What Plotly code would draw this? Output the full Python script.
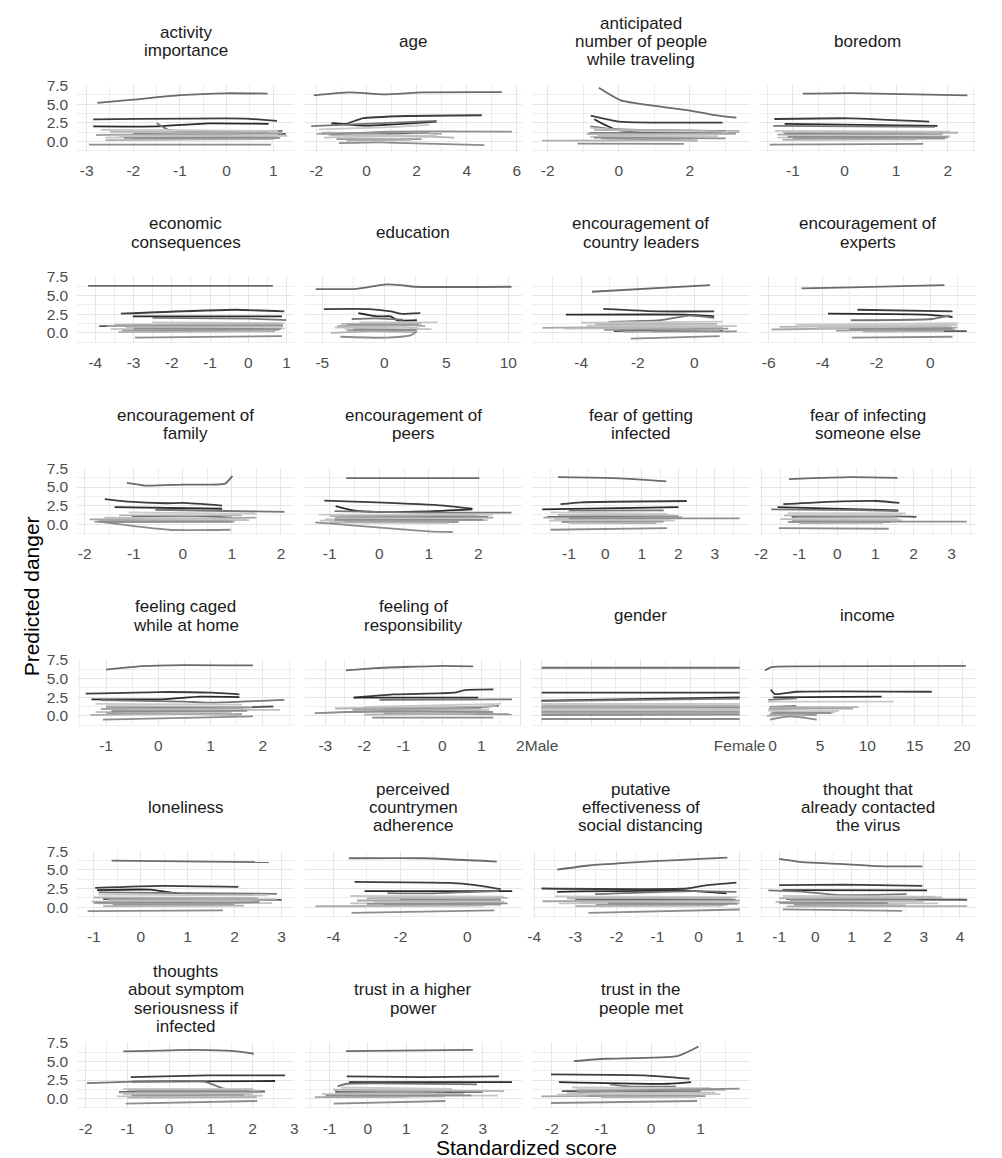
import plotly.graph_objects as go

# ---------------- data ----------------
series_colors = ["#6b6b6b", "#3d3d3d", "#2a2a2a", "#767676", "#555555", "#c9c9c9", "#b3b3b3",
                 "#a6a6a6", "#bebebe", "#c4c4c4", "#999999", "#b0b0b0", "#8e8e8e", "#8c8c8c"]

activity_importance = [
    [[-2.77, 5.15], [-2, 5.6], [-1, 6.2], [0, 6.45], [0.88, 6.4]],
    [[-2.86, 2.95], [0.4, 3.05], [1.08, 2.75]],
    [[-2.86, 2.0], [-1.5, 2.0], [-0.4, 2.4], [0.9, 2.35]],
    [[-1.5, 2.45], [-1.25, 1.55], [1.2, 1.4]],
    [[-2.0, 1.0], [1.27, 1.0]],
    [[-2.7, 1.55], [-1.0, 1.5], [1.1, 1.35]],
    [[-2.5, 1.3], [1.2, 1.15]],
    [[-2.8, 0.85], [-1, 1.0], [0.9, 1.2]],
    [[-2.3, 0.7], [1.1, 0.9]],
    [[-2.6, 0.5], [1.3, 0.75]],
    [[-2.0, 0.3], [1.15, 0.45]],
    [[-2.6, 0.15], [1.0, 0.3]],
    [[-2.2, 0.45], [1.1, 0.5]],
    [[-2.95, -0.44], [0.95, -0.44]],
]
age = [
    [[-2.1, 6.18], [-0.7, 6.57], [0.7, 6.3], [2.26, 6.57], [5.4, 6.6]],
    [[-1.37, 2.43], [-0.83, 2.34], [-0.16, 3.09], [1.6, 3.4], [4.6, 3.5]],
    [[-1.4, 2.4], [0, 2.1], [2.8, 2.65]],
    [[-2.2, 2.05], [2.8, 2.75]],
    [[-1.8, 1.05], [2.5, 1.1]],
    [[-1.9, 1.6], [1.0, 1.9], [2.5, 2.2]],
    [[-1.6, 1.2], [3.5, 0.5]],
    [[-2.0, 1.0], [1.5, 1.2], [3.0, 1.0]],
    [[-1.4, 0.8], [2.5, 0.6]],
    [[-1.7, 0.5], [2.8, 0.8]],
    [[-1.2, 0.3], [2.2, 0.3]],
    [[-0.8, 0.1], [1.8, 0.2]],
    [[-1.5, 0.9], [0.9, 1.3], [5.8, 1.3]],
    [[-1.1, -0.25], [0.5, -0.15], [1.2, -0.2], [4.7, -0.5]],
]
anticipated_people = [
    [[-0.56, 7.19], [0.05, 5.51], [1.02, 4.76], [2.04, 4.1], [2.69, 3.53], [3.31, 3.18]],
    [[-0.79, 3.44], [0, 2.65], [2.92, 2.51]],
    [[-0.69, 2.96], [-0.05, 1.54], [3.38, 1.32]],
    [[-0.8, 2.0], [-0.3, 1.7], [1.5, 1.45], [3.0, 1.4]],
    [[-0.83, 1.1], [3.2, 1.1]],
    [[-0.8, 1.8], [0.5, 1.4], [3.4, 1.3]],
    [[-0.7, 1.5], [2.0, 1.5], [3.1, 1.2]],
    [[-0.9, 1.0], [3.3, 1.0]],
    [[-0.6, 0.8], [2.5, 0.9]],
    [[-0.8, 0.6], [2.8, 0.7]],
    [[-0.5, 0.4], [2.2, 0.1]],
    [[-2.16, 0.09], [2.22, 0.13]],
    [[-0.7, 0.5], [3.0, 0.4]],
    [[-1.16, -0.31], [1.83, -0.35]],
]
boredom = [
    [[-0.81, 6.4], [0.11, 6.48], [2.38, 6.18]],
    [[-1.36, 3.0], [0.11, 3.09], [1.64, 2.65]],
    [[-1.16, 2.34], [1.8, 2.07]],
    [[-1.38, 2.07], [1.75, 1.95]],
    [[-1.16, 1.1], [1.6, 1.0]],
    [[-1.35, 1.4], [2.05, 1.3]],
    [[-1.2, 1.2], [2.2, 1.15]],
    [[-1.3, 0.9], [1.9, 0.95]],
    [[-1.1, 0.7], [2.05, 0.65]],
    [[-1.3, 0.5], [1.5, 0.55]],
    [[-1.0, 0.35], [1.95, 0.35]],
    [[-1.2, 0.2], [1.4, 0.25]],
    [[-1.1, 0.6], [2.0, 0.55]],
    [[-1.45, -0.44], [1.52, -0.35]],
]
economic_consequences = [
    [[-4.19, 6.31], [0.64, 6.31]],
    [[-3.33, 2.56], [-0.34, 3.09], [0.94, 2.87]],
    [[-3.02, 2.2], [0.88, 2.2]],
    [[-2.5, 2.0], [0, 1.9], [0.99, 1.7]],
    [[-3.9, 0.9], [-3.65, 0.9], [0.9, 1.0]],
    [[-2.5, 1.4], [0.95, 1.3]],
    [[-3.5, 1.1], [0.8, 1.2]],
    [[-3.7, 0.9], [0.9, 0.9]],
    [[-3.2, 0.7], [0.85, 0.8]],
    [[-3.6, 0.5], [0.95, 0.6]],
    [[-3.3, 0.3], [0.8, 0.4]],
    [[-3.4, 0.1], [0.7, 0.2]],
    [[-3.0, 0.55], [0.85, 0.5]],
    [[-2.96, -0.66], [0.88, -0.44]],
]
education = [
    [[-5.53, 5.87], [-2.24, 5.91], [0, 6.48], [1.32, 6.4], [2.5, 6.18], [10.26, 6.18]],
    [[-4.87, 3.18], [-1.18, 3.18], [0.53, 2.87], [1.32, 2.56], [2.9, 2.65]],
    [[-2.1, 2.65], [-0.5, 2.2], [0.5, 2.2], [1.05, 1.68], [2.63, 1.68]],
    [[-2.63, 1.85], [-0.8, 1.94], [1.5, 1.75]],
    [[-3.0, 1.1], [2.8, 1.2]],
    [[-2.0, 1.4], [4.3, 1.4]],
    [[-3.5, 1.2], [3.0, 1.25]],
    [[-3.8, 0.9], [2.2, 1.0], [3.3, 0.9]],
    [[-4.0, 0.7], [1.5, 0.8], [2.8, 0.6]],
    [[-3.2, 0.5], [3.8, 0.5]],
    [[-3.0, 0.3], [2.5, 0.35]],
    [[-4.3, 0.0], [-1.0, 0.2], [2.6, 0.1]],
    [[-2.5, 0.45], [2.6, 0.4]],
    [[-3.55, -0.53], [0, -0.66], [2.1, -0.35], [2.63, 0.22]],
]
encouragement_country_leaders = [
    [[-3.62, 5.51], [0.55, 6.4]],
    [[-3.22, 3.22], [-1.22, 2.87], [0.7, 2.87]],
    [[-4.54, 2.43], [-0.31, 2.43], [0.7, 2.2]],
    [[-3.03, 1.45], [-1.2, 1.7], [-0.2, 2.3], [0.7, 2.0]],
    [[-2.85, 0.22], [-2.5, 0.25], [1.0, 0.3]],
    [[-4.0, 1.35], [1.0, 1.5]],
    [[-3.5, 1.15], [0.8, 1.2]],
    [[-5.37, 0.66], [-3, 0.75], [1.0, 0.8]],
    [[-4.6, 0.55], [0.9, 0.7]],
    [[-3.8, 0.95], [1.5, 0.9]],
    [[-3.2, 0.4], [1.2, 0.55]],
    [[-2.5, 0.1], [0.9, 0.3]],
    [[-1.5, 0.2], [0.6, 0.15], [1.5, 0.2]],
    [[-2.25, -0.79], [0.89, -0.44]],
]
encouragement_experts = [
    [[-4.78, 5.95], [-2.95, 6.09], [0.52, 6.4]],
    [[-2.71, 3.09], [0.82, 2.87]],
    [[-3.8, 2.56], [-0.18, 2.43], [0.82, 2.12]],
    [[-2.95, 1.68], [0.06, 1.85], [0.7, 2.3]],
    [[-2.47, 0.22], [1.35, 0.22]],
    [[-5.0, 1.1], [1.0, 1.3]],
    [[-5.6, 0.8], [0.8, 1.0]],
    [[-5.9, 0.44], [-3, 0.6], [1.0, 0.7]],
    [[-4.2, 0.65], [0.7, 0.85]],
    [[-4.8, 0.9], [1.0, 1.05]],
    [[-3.5, 0.3], [0.9, 0.45]],
    [[-2.5, 0.15], [0.5, 0.2]],
    [[-3.0, 0.5], [0.8, 0.6]],
    [[-2.92, -0.66], [0.82, -0.53]],
]
encouragement_family = [
    [[-1.14, 5.55], [-0.77, 5.2], [0, 5.33], [0.86, 5.46], [1.01, 6.5]],
    [[-1.59, 3.38], [-1.11, 3.03], [-0.36, 2.82], [0, 2.86], [0.8, 2.51]],
    [[-1.39, 2.3], [0.8, 2.08]],
    [[-0.56, 1.95], [2.07, 1.65]],
    [[-1.04, 1.08], [0.5, 1.1], [1.0, 0.9]],
    [[-1.1, 1.6], [1.5, 1.4]],
    [[-1.3, 1.2], [1.2, 1.2]],
    [[-1.9, 0.65], [0, 0.75], [1.5, 0.9]],
    [[-1.6, 0.9], [1.3, 0.7]],
    [[-1.2, 0.45], [1.35, 0.55]],
    [[-1.5, 0.3], [1.05, 0.35]],
    [[-1.7, 0.5], [0.9, 0.5]],
    [[-1.8, 0.35], [1.0, 0.35]],
    [[-1.72, 0.35], [-0.29, -0.74], [0.97, -0.74]],
]
encouragement_peers = [
    [[-0.67, 6.2], [2.02, 6.2]],
    [[-1.11, 3.16], [-0.05, 2.95], [1.31, 2.51], [1.88, 2.08]],
    [[-0.88, 2.43], [-0.53, 1.86], [-0.05, 1.65], [0.97, 1.73], [1.88, 2.0]],
    [[-0.9, 1.75], [0.5, 1.6], [1.44, 1.56], [2.67, 1.56]],
    [[-0.8, 1.05], [2.2, 0.95]],
    [[-1.22, 1.3], [2.29, 1.25]],
    [[-1.0, 1.1], [2.0, 1.2]],
    [[-0.9, 0.85], [2.3, 0.9]],
    [[-1.1, 0.65], [1.9, 0.7]],
    [[-1.2, 0.5], [2.2, 0.55]],
    [[-0.7, 0.35], [1.6, 0.3]],
    [[-1.0, 0.25], [1.4, 0.2]],
    [[-0.9, 0.6], [2.1, 0.6]],
    [[-1.29, 0.26], [-0.05, -0.43], [1.0, -0.95], [1.48, -1.04]],
]
fear_getting_infected = [
    [[-1.3, 6.33], [0, 6.24], [0.79, 6.07], [1.67, 5.77]],
    [[-1.23, 2.69], [-0.65, 2.95], [2.23, 3.12]],
    [[-1.73, 1.99], [2.0, 2.3]],
    [[-1.0, 1.82], [1.6, 1.86]],
    [[-1.6, 1.0], [2.0, 1.05]],
    [[-1.5, 1.6], [1.7, 1.4]],
    [[-1.3, 1.25], [1.9, 1.2]],
    [[-1.7, 0.9], [2.1, 0.95]],
    [[-1.4, 0.7], [1.8, 0.75]],
    [[-1.55, 0.5], [1.9, 0.5]],
    [[-1.2, 0.3], [1.6, 0.35]],
    [[-1.0, 0.2], [1.4, 0.15]],
    [[-1.0, 0.8], [1.65, 0.78], [3.68, 0.78]],
    [[-1.5, -0.74], [1.69, -0.52]],
]
fear_infecting_others = [
    [[-1.27, 6.07], [0.36, 6.33], [1.58, 6.24]],
    [[-1.42, 2.69], [-0.5, 2.95], [1.05, 3.12], [1.63, 2.86]],
    [[-1.57, 2.3], [1.6, 1.86]],
    [[-1.74, 1.99], [0.5, 1.9], [1.6, 1.75]],
    [[-1.2, 1.0], [1.5, 1.05], [2.08, 1.0]],
    [[-1.3, 1.5], [1.8, 1.45]],
    [[-1.4, 1.2], [1.7, 1.2]],
    [[-1.1, 0.9], [1.5, 0.95]],
    [[-1.5, 0.7], [1.6, 0.7]],
    [[-1.2, 0.5], [1.7, 0.55]],
    [[-1.3, 0.3], [1.4, 0.3]],
    [[-1.0, 0.15], [1.2, 0.2]],
    [[-1.2, 0.4], [1.73, 0.35], [3.4, 0.35]],
    [[-1.54, -0.52], [1.35, -0.6]],
]
feeling_caged = [
    [[-1.0, 6.18], [-0.38, 6.62], [0.5, 6.79], [1.81, 6.75]],
    [[-1.39, 2.96], [0, 3.18], [1.02, 3.09], [1.55, 2.87]],
    [[-1.28, 2.2], [0.08, 2.2], [0.8, 2.56], [1.55, 2.51]],
    [[-1.1, 2.1], [0.5, 1.9], [0.93, 1.76], [2.41, 2.12]],
    [[-1.0, 1.0], [1.5, 1.1], [2.2, 1.24]],
    [[-1.2, 1.6], [1.6, 1.5]],
    [[-1.0, 1.3], [1.8, 1.2]],
    [[-1.1, 0.9], [1.5, 1.0]],
    [[-0.9, 0.7], [2.33, 0.79]],
    [[-1.2, 0.5], [1.4, 0.5]],
    [[-1.0, 0.3], [1.6, 0.2]],
    [[-1.3, 0.1], [0.5, 0.25], [1.5, 0.1]],
    [[-0.9, 0.6], [1.7, 0.65]],
    [[-1.06, -0.53], [1.81, -0.09]],
]
feeling_responsibility = [
    [[-2.47, 6.09], [-1.7, 6.4], [0.05, 6.7], [0.79, 6.62]],
    [[-2.27, 2.43], [-1.26, 2.87], [0.31, 3.09], [0.57, 3.44], [1.31, 3.53]],
    [[-2.27, 2.43], [0.92, 2.43]],
    [[-1.61, 2.12], [1.79, 2.2]],
    [[-1.5, 0.9], [0.7, 1.1], [1.44, 1.32]],
    [[-2.0, 1.2], [1.5, 1.6]],
    [[-2.75, 0.97], [0.5, 1.2], [1.4, 1.3]],
    [[-2.3, 0.8], [1.0, 0.9]],
    [[-1.8, 0.6], [1.2, 0.8]],
    [[-2.5, 0.5], [0.8, 0.6]],
    [[-1.5, 0.3], [1.79, 0.2]],
    [[-2.0, 0.15], [0.9, 0.3]],
    [[-3.27, 0.35], [-1.5, 0.6], [1.3, 0.5]],
    [[-1.8, -0.26], [1.31, -0.26]],
]
gender = [
    [[1, 6.44], [2, 6.44]],
    [[1, 3.09], [2, 3.09]],
    [[1, 2.03], [2, 2.47]],
    [[1, 1.95], [2, 2.3]],
    [[1, 1.0], [2, 1.05]],
    [[1, 1.6], [2, 1.6]],
    [[1, 1.4], [2, 1.35]],
    [[1, 1.2], [2, 1.2]],
    [[1, 0.95], [2, 0.9]],
    [[1, 0.75], [2, 0.75]],
    [[1, 0.5], [2, 0.5]],
    [[1, 0.3], [2, 0.3]],
    [[1, 0.1], [2, 0.15]],
    [[1, -0.44], [2, -0.44]],
]
income = [
    [[-0.81, 6.09], [-0.1, 6.53], [2.54, 6.62], [20.4, 6.7]],
    [[-0.2, 3.53], [0.25, 2.91], [2.54, 3.22], [16.8, 3.22]],
    [[0.07, 2.47], [11.5, 2.56]],
    [[-0.46, 2.12], [2.54, 2.34]],
    [[-0.3, 1.2], [2.5, 1.3]],
    [[-0.5, 1.9], [12.8, 1.9]],
    [[-0.2, 1.15], [9.07, 1.15]],
    [[-0.4, 0.9], [4.0, 0.95], [8.5, 0.95]],
    [[-0.2, 0.44], [6.6, 0.44]],
    [[-0.5, 0.7], [3.0, 0.6], [7.0, 0.65]],
    [[-0.3, 0.2], [4.66, 0.1]],
    [[-0.6, 0.0], [2.0, 0.1], [3.5, 0.0]],
    [[0.0, 0.4], [6.2, 0.35]],
    [[-0.28, -0.53], [1.83, -0.09], [4.66, -0.53]],
]
loneliness = [
    [[-0.62, 6.26], [2.73, 6.04]],
    [[-0.97, 2.6], [0.45, 2.87], [2.08, 2.73]],
    [[-0.93, 2.3], [0.2, 2.35], [0.9, 1.75], [1.7, 1.65], [2.42, 1.7]],
    [[-0.9, 2.0], [1.0, 1.9], [2.9, 1.8]],
    [[-0.8, 1.1], [3.0, 1.0]],
    [[-0.9, 1.7], [2.7, 1.6]],
    [[-1.0, 1.3], [2.5, 1.25]],
    [[-0.7, 1.0], [2.9, 1.05]],
    [[-1.05, 0.75], [2.5, 0.8]],
    [[-0.9, 0.5], [2.8, 0.55]],
    [[-0.6, 0.3], [2.0, 0.35]],
    [[-0.8, 0.15], [2.2, 0.2]],
    [[-1.0, 0.6], [1.8, 0.6], [2.53, 0.7]],
    [[-1.13, -0.53], [1.75, -0.44]],
]
perceived_adherence = [
    [[-3.54, 6.57], [-1.32, 6.57], [0.88, 6.13]],
    [[-3.37, 3.4], [-0.54, 3.26], [0.24, 2.96], [1.0, 2.43]],
    [[-3.07, 2.16], [1.34, 2.16]],
    [[-2.39, 1.9], [-1.32, 1.85], [0.93, 2.16]],
    [[-2.0, 1.0], [1.0, 1.05]],
    [[-3.5, 1.5], [1.1, 1.4]],
    [[-3.0, 1.2], [1.2, 1.25]],
    [[-3.3, 0.9], [1.0, 0.95]],
    [[-2.8, 0.7], [1.1, 0.75]],
    [[-3.5, 0.5], [0.9, 0.6]],
    [[-2.5, 0.3], [1.0, 0.35]],
    [[-4.54, 0.13], [0.5, 0.2]],
    [[-3.0, 0.45], [1.2, 0.5]],
    [[-3.46, -0.75], [0.81, -0.44]],
]
putative_effectiveness = [
    [[-3.44, 5.03], [-2.68, 5.6], [-1.88, 5.91], [-1.08, 6.18], [0.04, 6.48], [0.7, 6.66]],
    [[-3.82, 2.51], [-0.28, 2.51], [0.2, 2.96], [0.92, 3.31]],
    [[-3.44, 2.07], [-0.2, 2.2], [0.68, 1.85]],
    [[-2.52, 1.76], [-0.12, 2.16], [0.92, 2.07]],
    [[-3.0, 1.1], [0.9, 1.0]],
    [[-3.5, 1.45], [0.95, 1.35]],
    [[-3.2, 1.2], [0.8, 1.25]],
    [[-3.8, 0.8], [1.0, 0.9]],
    [[-2.9, 0.65], [0.9, 0.7]],
    [[-3.4, 0.5], [1.0, 0.55]],
    [[-2.5, 0.3], [0.7, 0.35]],
    [[-3.0, 0.15], [0.6, 0.2]],
    [[-2.2, 0.5], [0.95, 0.45]],
    [[-2.68, -0.75], [1.0, -0.31]],
]
thought_contacted = [
    [[-1.0, 6.48], [-0.35, 6.04], [0.65, 5.82], [1.7, 5.51], [2.96, 5.47]],
    [[-1.0, 2.96], [0.83, 3.04], [2.96, 2.87]],
    [[-0.91, 2.29], [3.09, 2.25]],
    [[-1.3, 2.25], [-0.3, 2.07], [0.65, 1.63], [2.52, 1.76]],
    [[-0.8, 1.1], [4.2, 1.0]],
    [[-0.9, 1.5], [3.3, 1.4]],
    [[-1.0, 1.2], [3.5, 1.3]],
    [[-0.7, 0.9], [2.8, 0.9]],
    [[-1.1, 0.7], [3.0, 0.75]],
    [[-0.9, 0.5], [3.4, 0.5]],
    [[-0.6, 0.3], [2.5, 0.25]],
    [[-0.8, 0.1], [4.2, 0.15]],
    [[-1.0, 0.6], [2.0, 0.55]],
    [[-0.9, -0.3], [2.4, -0.5]],
]
symptom_seriousness = [
    [[-1.1, 6.34], [0.61, 6.56], [1.56, 6.38], [2.03, 6.03]],
    [[-0.92, 2.9], [0.93, 3.13], [2.78, 3.13]],
    [[-0.9, 2.3], [2.54, 2.37]],
    [[-1.97, 2.1], [0.85, 2.3], [1.32, 1.34], [2.0, 1.3]],
    [[-1.2, 0.9], [2.3, 0.95]],
    [[-1.1, 1.3], [2.0, 1.3]],
    [[-1.0, 1.15], [2.3, 1.1]],
    [[-1.2, 0.8], [2.2, 0.85]],
    [[-1.1, 0.6], [2.0, 0.6]],
    [[-1.25, 0.3], [2.25, 0.4]],
    [[-0.9, 0.45], [1.8, 0.5]],
    [[-1.0, 0.15], [2.1, 0.2]],
    [[-0.8, 1.0], [1.9, 1.0]],
    [[-1.04, -0.67], [2.11, -0.31]],
]
trust_higher_power = [
    [[-0.57, 6.38], [2.74, 6.56]],
    [[-0.55, 2.99], [1.44, 2.9], [3.42, 2.99]],
    [[-0.49, 2.23], [3.76, 2.23]],
    [[-0.79, 1.65], [-0.53, 2.0], [2.85, 1.92]],
    [[-0.85, 0.9], [1.0, 0.85], [3.0, 0.9]],
    [[-0.7, 1.5], [2.2, 1.3]],
    [[-0.9, 1.2], [3.56, 1.0]],
    [[-1.38, 0.2], [1.0, 0.3], [1.5, 0.6], [2.0, 0.7]],
    [[-1.2, 0.6], [2.5, 0.65]],
    [[-1.0, 0.45], [3.4, 0.4]],
    [[-0.8, 0.8], [1.8, 0.9]],
    [[-0.5, 0.25], [2.0, 0.3]],
    [[-1.1, 0.4], [2.7, 0.45]],
    [[-0.89, -0.67], [2.02, -0.31]],
]
trust_people_met = [
    [[-1.56, 5.04], [-0.93, 5.36], [0.53, 5.71], [0.96, 7.0]],
    [[-2.02, 3.26], [-0.13, 3.13], [0.78, 2.68]],
    [[-1.86, 2.23], [0.33, 2.0], [0.81, 2.23]],
    [[-0.83, 1.92], [-0.46, 1.65], [0.5, 1.6]],
    [[-1.8, 1.0], [1.0, 1.05]],
    [[-1.6, 1.5], [1.2, 1.4]],
    [[-1.5, 1.2], [1.5, 1.2]],
    [[-2.21, 0.3], [1.0, 0.5]],
    [[-1.7, 0.75], [1.3, 0.8]],
    [[-1.9, 0.55], [1.4, 0.6]],
    [[-1.3, 0.35], [1.1, 0.35]],
    [[-1.0, 0.2], [0.9, 0.25]],
    [[-1.5, 0.9], [0.5, 1.2], [1.79, 1.34]],
    [[-2.02, -0.58], [0.93, -0.31]],
]

facet_titles = [
    ["activity", "importance"], ["age"], ["anticipated", "number of people", "while traveling"], ["boredom"],
    ["economic", "consequences"], ["education"], ["encouragement of", "country leaders"], ["encouragement of", "experts"],
    ["encouragement of", "family"], ["encouragement of", "peers"], ["fear of getting", "infected"], ["fear of infecting", "someone else"],
    ["feeling caged", "while at home"], ["feeling of", "responsibility"], ["gender"], ["income"],
    ["loneliness"], ["perceived", "countrymen", "adherence"], ["putative", "effectiveness of", "social distancing"],
    ["thought that", "already contacted", "the virus"],
    ["thoughts", "about symptom", "seriousness if", "infected"], ["trust in a higher", "power"], ["trust in the", "people met"],
]
facet_data = [activity_importance, age, anticipated_people, boredom, economic_consequences, education,
              encouragement_country_leaders, encouragement_experts, encouragement_family, encouragement_peers,
              fear_getting_infected, fear_infecting_others, feeling_caged, feeling_responsibility, gender, income,
              loneliness, perceived_adherence, putative_effectiveness, thought_contacted, symptom_seriousness,
              trust_higher_power, trust_people_met]
x_ticks = [
    [-3, -2, -1, 0, 1], [-2, 0, 2, 4, 6], [-2, 0, 2], [-1, 0, 1, 2],
    [-4, -3, -2, -1, 0, 1], [-5, 0, 5, 10], [-4, -2, 0], [-6, -4, -2, 0],
    [-2, -1, 0, 1, 2], [-1, 0, 1, 2], [-1, 0, 1, 2, 3], [-2, -1, 0, 1, 2, 3],
    [-1, 0, 1, 2], [-3, -2, -1, 0, 1, 2], [1, 1.25, 1.5, 1.75, 2], [0, 5, 10, 15, 20],
    [-1, 0, 1, 2, 3], [-4, -2, 0], [-4, -3, -2, -1, 0, 1], [-1, 0, 1, 2, 3, 4],
    [-2, -1, 0, 1, 2, 3], [-1, 0, 1, 2, 3], [-2, -1, 0, 1],
]
gender_labels = ["Male", "", "", "", "Female"]
y_ticks = [0, 2.5, 5, 7.5]
y_labels = ["0.0", "2.5", "5.0", "7.5"]

# axis ranges / minor steps (layout)
x_ranges = [
    [-3.2, 1.45], [-2.45, 6.2], [-2.45, 3.68], [-1.65, 2.55],
    [-4.47, 1.2], [-6.4, 11.1], [-5.75, 1.95], [-6.35, 1.7],
    [-2.15, 2.27], [-1.5, 2.88], [-2.02, 3.95], [-2.05, 3.65],
    [-1.55, 2.6], [-3.52, 2.04], [0.95, 2.05], [-1.4, 21.5],
    [-1.35, 3.27], [-4.85, 1.63], [-4.06, 1.24], [-1.55, 4.45],
    [-2.2, 3.0], [-1.64, 4.02], [-2.41, 1.99],
]
x_minor = [0.5, 1, 1, 0.5, 0.5, 2.5, 1, 1, 0.5, 0.5, 0.5, 0.5, 0.5, 0.5, 0.125, 2.5,
           0.5, 1, 0.5, 0.5, 0.5, 0.5, 0.5]
y_range = [-1.4, 7.6]

# ---------------- figure ----------------
W, H = 1002, 1158
col_px = [(72, 294), (305, 527), (537, 760), (770, 992)]
row_y75 = 78.0
row_step = 192.8
px_per_unit = 7.5
FONT = "Liberation Sans, Arial, Helvetica, sans-serif"

fig = go.Figure()
annotations = []
layout = dict(width=W, height=H, margin=dict(l=0, r=0, t=0, b=0),
              paper_bgcolor="white", plot_bgcolor="white", showlegend=False,
              font=dict(family=FONT, color="#4d4d4d"))

for i, lines in enumerate(facet_data):
    r, c = divmod(i, 4)
    k = i + 1
    xa = "x" if k == 1 else f"x{k}"
    ya = "y" if k == 1 else f"y{k}"
    for j, pts in enumerate(lines):
        fig.add_trace(go.Scatter(
            x=[p[0] for p in pts], y=[p[1] for p in pts], mode="lines",
            line=dict(color=series_colors[j], width=1.8, shape="spline", smoothing=0.5),
            xaxis=xa, yaxis=ya, hoverinfo="skip", showlegend=False))

    y75 = row_y75 + row_step * r
    top = y75 - (y_range[1] - 7.5) * px_per_unit
    bottom = y75 + (7.5 - y_range[0]) * px_per_unit
    x0, x1 = col_px[c]

    ticks = x_ticks[i]
    ttext = gender_labels if i == 14 else [str(t) for t in ticks]
    xkey = "xaxis" if k == 1 else f"xaxis{k}"
    ykey = "yaxis" if k == 1 else f"yaxis{k}"
    layout[xkey] = dict(
        domain=[x0 / W, x1 / W], range=x_ranges[i], anchor=ya,
        tickmode="array", tickvals=ticks, ticktext=ttext,
        showgrid=True, gridcolor="#e6e6e6", gridwidth=1.2, zeroline=False, showline=False,
        ticks="outside", ticklen=5, tickcolor="rgba(0,0,0,0)",
        tickfont=dict(size=15.5, color="#4d4d4d", family=FONT),
        minor=dict(dtick=x_minor[i], tick0=0, showgrid=True, gridcolor="#eeeeee", gridwidth=0.9),
        fixedrange=True)
    layout[ykey] = dict(
        domain=[1 - bottom / H, 1 - top / H], range=y_range, anchor=xa,
        tickmode="array", tickvals=y_ticks, ticktext=y_labels,
        showticklabels=(c == 0),
        showgrid=True, gridcolor="#e6e6e6", gridwidth=1.2, zeroline=False, showline=False,
        ticks="outside", ticklen=5, tickcolor="rgba(0,0,0,0)",
        tickfont=dict(size=15.5, color="#4d4d4d", family=FONT),
        minor=dict(dtick=1.25, tick0=0, showgrid=True, gridcolor="#eeeeee", gridwidth=0.9),
        fixedrange=True)

    # strip title lines
    tl = facet_titles[i]
    n = len(tl)
    for li, txt in enumerate(tl):
        yc = top - 43.5 + (li - (n - 1) / 2) * 18.5
        annotations.append(dict(
            text=txt, x=(x0 + x1) / 2 / W, y=1 - yc / H, xref="paper", yref="paper",
            xanchor="center", yanchor="middle", showarrow=False,
            font=dict(size=17, color="#1a1a1a", family=FONT)))

annotations.append(dict(text="Standardized score", x=532 / W, y=1 - 1147 / H, xref="paper", yref="paper",
                        xanchor="center", yanchor="middle", showarrow=False,
                        font=dict(size=21, color="#000000", family=FONT)))
annotations.append(dict(text="Predicted danger", x=25 / W, y=1 - 592 / H, xref="paper", yref="paper",
                        xanchor="center", yanchor="middle", showarrow=False, textangle=-90,
                        font=dict(size=21, color="#000000", family=FONT)))
layout["annotations"] = annotations
fig.update_layout(**layout)
fig.write_html("out.html")
